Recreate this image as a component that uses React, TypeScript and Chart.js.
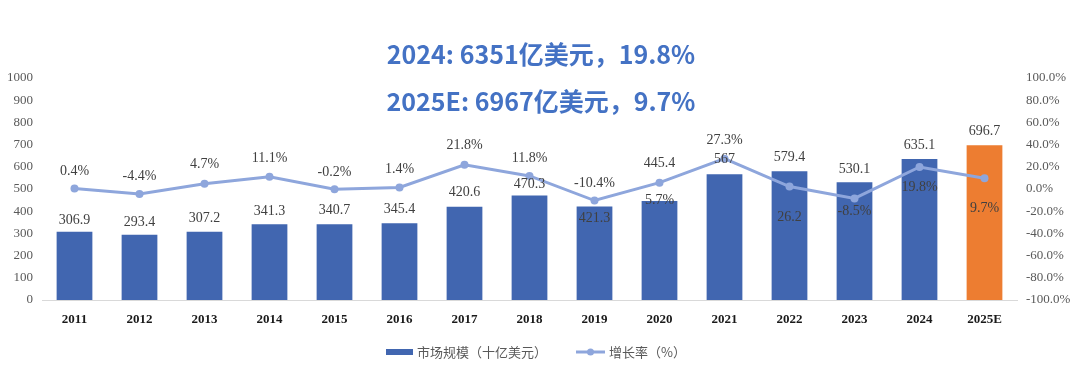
import React, { useEffect, useRef } from "react";
import { Chart, registerables } from "chart.js";

Chart.register(...registerables);

const categories = ["2011", "2012", "2013", "2014", "2015", "2016", "2017", "2018", "2019", "2020", "2021", "2022", "2023", "2024", "2025E"];
const marketSize = [306.9, 293.4, 307.2, 341.3, 340.7, 345.4, 420.6, 470.3, 421.3, 445.4, 567, 579.4, 530.1, 635.1, 696.7];
const marketLabels = ["306.9", "293.4", "307.2", "341.3", "340.7", "345.4", "420.6", "470.3", "421.3", "445.4", "567", "579.4", "530.1", "635.1", "696.7"];
const growthRate = [0.4, -4.4, 4.7, 11.1, -0.2, 1.4, 21.8, 11.8, -10.4, 5.7, 27.3, 2.2, -8.5, 19.8, 9.7];
const growthLabels = ["0.4%", "-4.4%", "4.7%", "11.1%", "-0.2%", "1.4%", "21.8%", "11.8%", "-10.4%", "5.7%", "27.3%", "26.2", "-8.5%", "19.8%", "9.7%"];
const leftTicks = { min: 0, max: 1000, step: 100 };
const rightTicks = { min: -100, max: 100, step: 20 };
const titleLines = ["2024: 6351亿美元，19.8%", "2025E: 6967亿美元，9.7%"];
const legendLabels = ["市场规模（十亿美元）", "增长率（%）"];

// label placement (pixel shifts relative to the mark), layout only
const barLabelShift = [-12, -13, -13, -13, -14, -14, -14, -11, 12, -38, -15, -14, -13, -14, -14];
const growthLabelShift = [-17, -18, -19, -18, -17, -18, -19, -18, -17, 18, -18, 31, 13, 20, 30];

const BLUE = "#4166B0";
const ORANGE = "#ED7D31";
const LINE = "#8EA6DC";
const TITLE = "#4472C4";

export default function App() {
  const ref = useRef<HTMLCanvasElement | null>(null);
  useEffect(() => {
    document.body.style.margin = "0";
    const canvas = ref.current!;
    const labelsPlugin = {
      id: "labels",
      afterDatasetsDraw(chart: any) {
        const ctx = chart.ctx;
        ctx.save();
        ctx.font = "14px 'Liberation Serif', 'Times New Roman', serif";
        ctx.fillStyle = "#404040";
        ctx.textAlign = "center";
        ctx.textBaseline = "middle";
        const barMeta = chart.getDatasetMeta(0);
        barMeta.data.forEach((el: any, i: number) => {
          ctx.fillText(marketLabels[i], el.x, el.y + barLabelShift[i]);
        });
        const lineMeta = chart.getDatasetMeta(1);
        lineMeta.data.forEach((el: any, i: number) => {
          ctx.fillText(growthLabels[i], el.x, el.y + growthLabelShift[i]);
        });
        ctx.restore();
      },
      afterDraw(chart: any) {
        const ctx = chart.ctx;
        ctx.save();
        // title
        ctx.font = "bold 25px 'Noto Sans CJK SC', 'Noto Sans', sans-serif";
        ctx.fillStyle = TITLE;
        ctx.textAlign = "center";
        ctx.textBaseline = "middle";
        ctx.fillText(titleLines[0], 541, 54);
        ctx.fillText(titleLines[1], 541, 101);
        // legend
        ctx.font = "13px 'Noto Sans CJK SC', 'Noto Sans', sans-serif";
        ctx.textAlign = "left";
        ctx.fillStyle = BLUE;
        ctx.fillRect(386, 349, 27, 6);
        ctx.fillStyle = "#595959";
        ctx.fillText(legendLabels[0], 417, 352);
        ctx.strokeStyle = LINE;
        ctx.lineWidth = 3;
        ctx.beginPath();
        ctx.moveTo(576, 352);
        ctx.lineTo(605, 352);
        ctx.stroke();
        ctx.fillStyle = LINE;
        ctx.beginPath();
        ctx.arc(590.5, 352, 3.5, 0, Math.PI * 2);
        ctx.fill();
        ctx.fillStyle = "#595959";
        ctx.fillText(legendLabels[1], 609, 352);
        ctx.restore();
      },
    };
    const chart = new Chart(canvas, {
      type: "bar",
      data: {
        labels: categories,
        datasets: [
          {
            type: "bar",
            label: legendLabels[0],
            data: marketSize,
            backgroundColor: categories.map((c) => (c.endsWith("E") ? ORANGE : BLUE)),
            yAxisID: "y",
            barPercentage: 0.55,
            categoryPercentage: 1,
            order: 1,
          },
          {
            type: "line",
            label: legendLabels[1],
            data: growthRate,
            borderColor: LINE,
            backgroundColor: LINE,
            borderWidth: 3,
            pointRadius: 4,
            pointBorderWidth: 0,
            pointBackgroundColor: LINE,
            yAxisID: "y1",
            order: 0,
          },
        ],
      },
      options: {
        animation: false,
        responsive: false,
        maintainAspectRatio: false,
        layout: { padding: { top: 78, left: 0, right: 0, bottom: 0 } },
        plugins: { legend: { display: false }, tooltip: { enabled: false }, title: { display: false } },
        scales: {
          x: {
            grid: { display: false, drawTicks: false },
            border: { display: true, color: "#D9D9D9", width: 1 },
            ticks: {
              padding: 12,
              color: "#1a1a1a",
              font: { family: "'Liberation Serif', 'Times New Roman', serif", size: 13, weight: "bold" },
            },
            afterFit(scale: any) {
              scale.height = 80;
            },
          },
          y: {
            position: "left",
            min: leftTicks.min,
            max: leftTicks.max,
            grid: { display: false, drawTicks: false },
            border: { display: false },
            ticks: {
              stepSize: leftTicks.step,
              padding: 9,
              color: "#595959",
              font: { family: "'Liberation Serif', 'Times New Roman', serif", size: 13 },
              callback: (v: any) => String(v),
            },
            afterFit(scale: any) {
              scale.width = 42;
            },
          },
          y1: {
            position: "right",
            min: rightTicks.min,
            max: rightTicks.max,
            grid: { display: false, drawTicks: false },
            border: { display: false },
            ticks: {
              stepSize: rightTicks.step,
              padding: 9,
              color: "#595959",
              font: { family: "'Liberation Serif', 'Times New Roman', serif", size: 13 },
              callback: (v: any) => `${Number(v).toFixed(1)}%`,
            },
            afterFit(scale: any) {
              scale.width = 63;
            },
          },
        },
      },
      plugins: [labelsPlugin],
    } as any);
    return () => chart.destroy();
  }, []);
  return (
    <div style={{ width: 1080, height: 380, background: "#fff" }}>
      <canvas ref={ref} width={1080} height={380} style={{ display: "block" }} />
    </div>
  );
}
